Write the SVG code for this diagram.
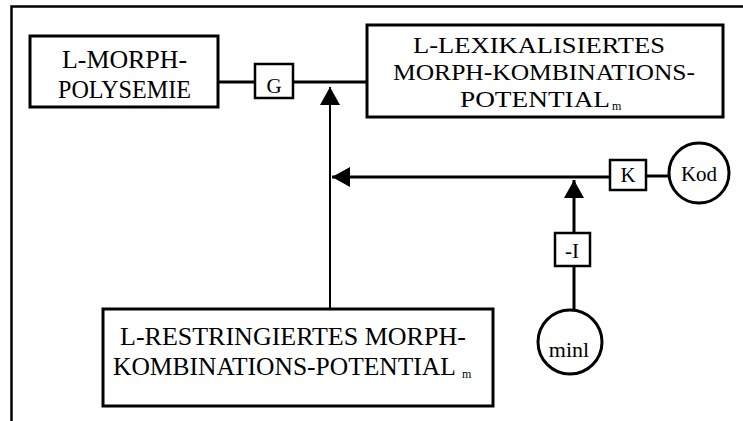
<svg xmlns="http://www.w3.org/2000/svg" width="743" height="421" viewBox="0 0 743 421">
  <style>
    .box { fill: #fff; stroke: #000; stroke-width: 3; }
    .small { fill: #fff; stroke: #000; stroke-width: 2.5; }
    .t { font-family: "Liberation Serif", "Times New Roman", serif; fill: #000; }
    .big { font-size: 25.5px; }
    .mid { font-size: 24px; }
    .lbl { font-size: 21px; }
    .sub { font-size: 12px; }
    .ln { stroke: #000; stroke-width: 3; fill: none; }
    .thin { stroke: #000; stroke-width: 2; fill: none; }
  </style>
  <defs>
    <marker id="arr" markerUnits="userSpaceOnUse" markerWidth="19" markerHeight="21" refX="18" refY="10" orient="auto">
      <path d="M0,0 L18,10 L0,20 Z" fill="#000"/>
    </marker>
  </defs>
  <rect width="743" height="421" fill="#fff"/>
  <path d="M11.5,421 V6.5 H743" fill="none" stroke="#000" stroke-width="2.5"/>

  <g id="connectors">
    <line class="ln" x1="218" y1="82" x2="255" y2="82"/>
    <line class="ln" x1="293" y1="82" x2="367" y2="82"/>
    <line class="thin" x1="330" y1="309" x2="330" y2="87" marker-end="url(#arr)"/>
    <line class="ln" x1="610" y1="177" x2="332" y2="177" marker-end="url(#arr)"/>
    <line class="ln" x1="646" y1="176" x2="669" y2="176"/>
    <line class="ln" x1="574" y1="233" x2="574" y2="180" marker-end="url(#arr)"/>
    <line class="ln" x1="574" y1="266" x2="574" y2="310"/>
  </g>

  <g id="polysemie">
    <rect class="box" x="30" y="36" width="188" height="71"/>
    <text class="t" x="124.5" y="68" font-size="25" text-anchor="middle" textLength="125" lengthAdjust="spacingAndGlyphs">L-MORPH-</text>
    <text class="t" x="124.5" y="98" font-size="25" text-anchor="middle" textLength="133" lengthAdjust="spacingAndGlyphs">POLYSEMIE</text>
  </g>

  <g id="g-box">
    <rect class="small" x="255" y="64" width="38" height="34"/>
    <text class="t lbl" x="274" y="93" text-anchor="middle">G</text>
  </g>

  <g id="lexikalisiert">
    <rect class="box" x="367" y="25" width="356" height="92"/>
    <text class="t mid" x="539" y="53" text-anchor="middle" textLength="252" lengthAdjust="spacingAndGlyphs">L-LEXIKALISIERTES</text>
    <text class="t mid" x="544" y="80" text-anchor="middle" textLength="302" lengthAdjust="spacingAndGlyphs">MORPH-KOMBINATIONS-</text>
    <text class="t mid" x="460" y="107" textLength="150" lengthAdjust="spacingAndGlyphs">POTENTIAL</text>
    <text class="t sub" x="612" y="110">m</text>
  </g>

  <g id="k-box">
    <rect class="small" x="610" y="160" width="36" height="30"/>
    <text class="t lbl" x="628" y="182" text-anchor="middle">K</text>
  </g>

  <g id="kod">
    <circle cx="699" cy="173" r="30" fill="#fff" stroke="#000" stroke-width="3"/>
    <text class="t lbl" x="699" y="181" text-anchor="middle">Kod</text>
  </g>

  <g id="l-box">
    <rect class="small" x="555" y="233" width="35" height="33"/>
    <text class="t lbl" x="572" y="258" text-anchor="middle">-I</text>
  </g>

  <g id="minl">
    <circle cx="570" cy="342" r="32" fill="#fff" stroke="#000" stroke-width="3"/>
    <text class="t" x="569" y="357" font-size="22" text-anchor="middle">minl</text>
  </g>

  <g id="restringiert">
    <rect class="box" x="103" y="309" width="390" height="97"/>
    <text class="t" font-size="26" x="120" y="345">L-RESTRINGIERTES MORPH-</text>
    <text class="t big" x="113" y="375">KOMBINATIONS-POTENTIAL</text>
    <text class="t sub" x="462" y="378">m</text>
  </g>
</svg>
